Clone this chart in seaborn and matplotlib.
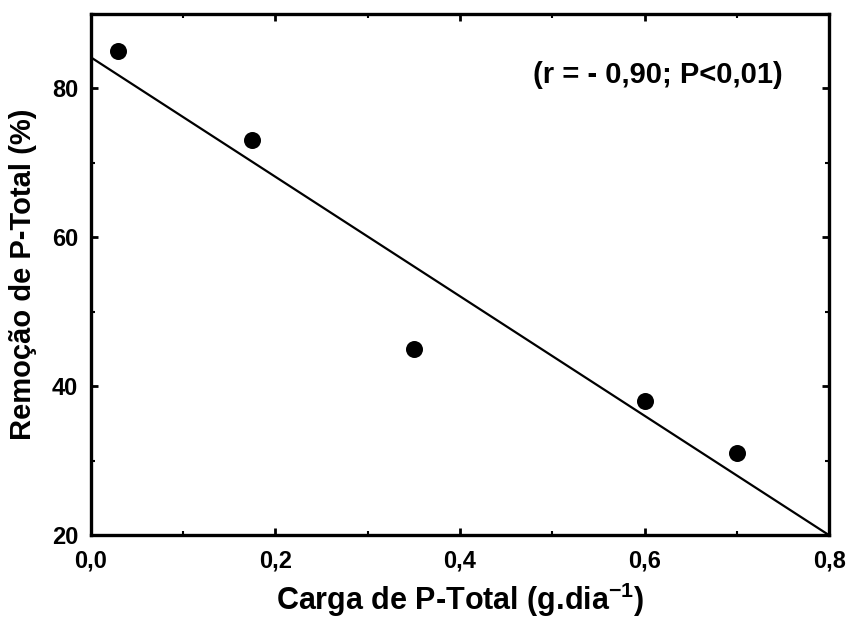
import matplotlib
matplotlib.use("Agg")
import matplotlib.pyplot as plt
import pandas as pd
import seaborn as sns
from matplotlib.ticker import MultipleLocator

# data
carga = [0.03, 0.175, 0.35, 0.60, 0.70]
remocao = [85, 73, 45, 38, 31]
x_ticks = [0.0, 0.2, 0.4, 0.6, 0.8]
x_tick_labels = ["0,0", "0,2", "0,4", "0,6", "0,8"]
y_ticks = [20, 40, 60, 80]
y_tick_labels = ["20", "40", "60", "80"]
stats_text = "(r = - 0,90; P<0,01)"

df = pd.DataFrame({"carga": carga, "remocao": remocao})

sns.set_theme(style="ticks")
plt.rcParams["font.family"] = ["Liberation Sans", "DejaVu Sans"]
plt.rcParams["text.color"] = "black"
plt.rcParams["axes.labelcolor"] = "black"
plt.rcParams["xtick.color"] = "black"
plt.rcParams["ytick.color"] = "black"
plt.rcParams["mathtext.fontset"] = "custom"
plt.rcParams["mathtext.rm"] = "Liberation Sans"
plt.rcParams["mathtext.bf"] = "Liberation Sans:bold"

fig = plt.figure(figsize=(8.47, 6.23), dpi=100)
ax = fig.add_axes([0.107, 0.141, 0.872, 0.837])
ax.set_xlim(0, 0.8)
ax.set_ylim(20, 90)

sns.regplot(data=df, x="carga", y="remocao", ax=ax, ci=None, truncate=False,
            scatter_kws={"s": 150, "color": "black", "alpha": 1, "zorder": 3,
                         "linewidths": 0},
            line_kws={"color": "black", "linewidth": 1.6})
ax.set_xlim(0, 0.8)
ax.set_ylim(20, 90)

ax.set_xticks(x_ticks)
ax.set_xticklabels(x_tick_labels, fontweight="bold", fontsize=17)
ax.set_yticks(y_ticks)
ax.set_yticklabels(y_tick_labels, fontweight="bold", fontsize=17)
ax.xaxis.set_minor_locator(MultipleLocator(0.1))
ax.yaxis.set_minor_locator(MultipleLocator(10))
ax.tick_params(which="both", direction="in", top=True, right=True, color="black")
ax.tick_params(which="major", length=5, width=2)
ax.tick_params(which="minor", length=3, width=1.5)
ax.tick_params(axis="x", pad=10)
ax.tick_params(axis="y", pad=9)

for sp in ax.spines.values():
    sp.set_linewidth(2.4)
    sp.set_color("black")
    sp.set_visible(True)

ax.set_xlabel("Carga de P-Total (g.dia$^{\\mathbf{-1}}$)", fontsize=22,
              fontweight="bold", labelpad=6)
ax.set_ylabel("Remoção de P-Total (%)", fontsize=21, fontweight="bold")
ax.yaxis.set_label_coords(-0.073, 0.5)

ax.text(0.768, 0.883, stats_text, transform=ax.transAxes, ha="center", va="center",
        fontsize=21, fontweight="bold")

fig.savefig("out.png", dpi=100)
